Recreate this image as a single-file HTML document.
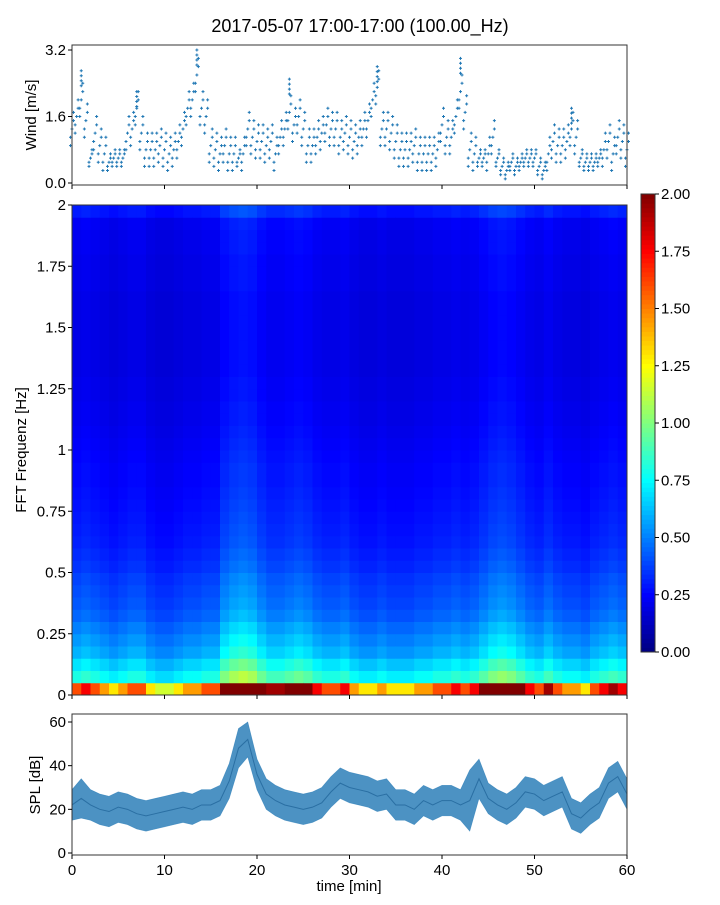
<!DOCTYPE html>
<html><head><meta charset="utf-8"><style>
body{margin:0;background:#fff;width:720px;height:900px;overflow:hidden;font-family:"Liberation Sans",sans-serif}
svg text{font-family:"Liberation Sans",sans-serif;fill:#000}
</style></head><body>
<svg id="chart" width="720" height="900" xmlns="http://www.w3.org/2000/svg">
<text x="360" y="32" font-size="18" text-anchor="middle">2017-05-07 17:00-17:00 (100.00_Hz)</text>
<g id="wind"></g>
<g id="spec"></g>
<g id="cbar"></g>
<g id="spl"></g>
</svg>
<script>
// ---- data ----
const windValues=[1.3,1.6,2.0,1.5,0.6,1.2,0.9,0.7,0.5,0.6,0.6,0.6,1.2,1.3,1.8,1.2,0.8,0.8,0.8,0.9,0.8,0.7,0.8,1.0,1.3,1.8,2.0,2.6,1.8,1.6,0.9,0.8,0.7,0.9,0.7,0.7,0.6,0.7,1.3,1.1,1.0,1.0,0.9,1.0,0.7,1.1,1.3,1.7,1.4,1.6,1.3,0.9,0.9,1.1,1.2,1.4,1.3,1.3,1.1,1.2,1.1,1.0,1.1,1.3,1.5,2.0,2.3,1.3,1.3,1.2,1.0,0.8,0.8,0.8,0.9,0.7,0.7,0.7,0.7,0.8,1.4,1.1,1.1,1.6,2.2,1.7,0.8,0.7,0.6,0.6,0.7,1.1,0.6,0.4,0.3,0.5,0.4,0.5,0.6,0.6,0.6,0.4,0.3,0.7,1.0,0.9,0.9,1.0,1.3,1.1,0.6,0.5,0.5,0.5,0.6,0.8,1.0,0.7,1.1,1.0,0.8];
const windPeaks=[[1,2.7],[7,2.2],[13.5,3.2],[23.5,2.5],[33,2.8],[42,3.0],[54,1.8]];
const windTicks=[0.0,1.6,3.2];
const freqProfile=[1.6,0.8,0.7,0.6,0.55,0.5,0.45,0.42,0.4,0.38,0.35,0.33,0.31,0.3,0.29,0.28,0.27,0.26,0.26,0.25,0.24,0.23,0.22,0.22,0.21,0.21,0.2,0.2,0.2,0.2,0.2,0.2,0.2,0.21,0.21,0.21,0.22,0.22,0.23,0.3];
const colGain=[1.0,1.05,1.0,0.95,0.9,0.95,1.0,1.0,0.9,0.85,0.85,0.9,0.95,0.95,1.0,1.0,1.25,1.35,1.4,1.35,1.2,1.1,1.1,1.15,1.2,1.15,1.05,1.0,1.0,1.05,0.95,0.9,0.9,0.95,0.9,0.9,0.9,0.95,0.95,1.0,1.0,1.05,1.0,1.05,1.15,1.25,1.3,1.25,1.15,1.05,1.0,1.1,1.0,0.95,0.95,0.9,1.0,1.05,1.1,1.05];
const freqTickLabels=["0","0.25","0.5","0.75","1","1.25","1.5","1.75","2"];
const cbarTicks=["0.00","0.25","0.50","0.75","1.00","1.25","1.50","1.75","2.00"];
const splMean=[22,25,22,20,19,21,20,18,17,18,19,20,21,20,22,22,24,33,48,52,36,27,24,22,21,20,21,23,28,32,30,29,28,26,27,22,22,20,24,22,24,24,22,24,34,25,22,20,23,28,27,24,26,28,18,16,20,23,32,35,27];
const splSpread=[7,9,7,7,7,7,7,7,7,7,7,7,7,7,7,7,7,8,9,8,7,7,7,7,7,7,7,7,7,7,7,7,7,7,7,7,7,7,7,7,7,7,7,14,9,7,7,7,7,7,7,7,7,7,7,7,7,7,7,7,7];
const splTicks=[0,20,40,60];
const timeTicks=[0,10,20,30,40,50,60];
// ---- helpers ----
const NS="http://www.w3.org/2000/svg";
function mk(p,tag,at){const e=document.createElementNS(NS,tag);for(const k in at)e.setAttribute(k,at[k]);p.appendChild(e);return e;}
const X0=72,X1=627;
const xT=t=>X0+(X1-X0)*t/60;
function jet(v){v=Math.max(0,Math.min(1,v));
 const r=Math.max(0,Math.min(1,Math.min(4*v-1.5,-4*v+4.5)));
 const g=Math.max(0,Math.min(1,Math.min(4*v-0.5,-4*v+3.5)));
 const b=Math.max(0,Math.min(1,Math.min(4*v+0.5,-4*v+2.5)));
 return `rgb(${Math.round(r*255)},${Math.round(g*255)},${Math.round(b*255)})`;}
function frame(g,y0,y1,name){const r=mk(g,'rect',{x:X0,y:y0,width:X1-X0,height:y1-y0,fill:'none',stroke:'#333','stroke-width':1});
 }
function xticks(g,y1,labels){timeTicks.forEach(t=>{const l=mk(g,'line',{x1:xT(t),x2:xT(t),y1:y1,y2:y1+4,stroke:'#000'});
 
 if(labels){const tx=mk(g,'text',{x:xT(t),y:y1+20,'font-size':15,'text-anchor':'middle'});tx.textContent=t;
 }});}
// ---- wind ----
const W=document.getElementById('wind');
const wy=v=>183-(183-50)*v/3.2;
function cross(x,y){const p=mk(W,'path',{d:`M${x-1.5} ${y}h3M${x} ${y-1.5}v3`,stroke:'#1f77b4','stroke-width':1});
 }
windValues.forEach((v,i)=>{const t=i*60/(windValues.length-1);
 [-0.4,-0.2,0,0.2,0.4].forEach(d=>{cross(xT(t)+(d>0?1.5:d<0?-1.5:0),wy(Math.max(0.1,v+d*(v>0.6?1:0.5))));});});
windPeaks.forEach(([t,p])=>{for(let k=0;k<4;k++){const v=p-k*0.12;cross(xT(t),wy(v));}});
frame(W,45,185,'wind-frame');xticks(W,185,false);
windTicks.forEach(v=>{mk(W,'line',{x1:68,x2:72,y1:wy(v),y2:wy(v),stroke:'#000'});
 const t=mk(W,'text',{x:66,y:wy(v)+5,'font-size':15,'text-anchor':'end'});t.textContent=v.toFixed(1);
 });
const wl=mk(W,'text',{x:36,y:115,'font-size':15,'text-anchor':'middle',transform:'rotate(-90 36 115)'});wl.textContent='Wind [m/s]';

// ---- spectrogram ----
const S=document.getElementById('spec');
const SY0=205,SY1=695;
const fy=f=>SY1-(SY1-SY0)*f/2;
const cw=(X1-X0)/colGain.length;
colGain.forEach((gn,c)=>{freqProfile.forEach((p,r)=>{
 const y=fy((r+1)*0.05);const h=fy(r*0.05)-y;
 const g=r<1?gn*gn:gn;
 const cell=mk(S,'rect',{x:X0+c*cw,y:y,width:cw+0.5,height:h+0.5,fill:jet(p*g/2)});
 });});
frame(S,SY0,SY1,'spectrogram-frame');xticks(S,SY1,false);
freqTickLabels.forEach((lb,i)=>{const y=fy(i*0.25);mk(S,'line',{x1:68,x2:72,y1:y,y2:y,stroke:'#000'});
 const t=mk(S,'text',{x:66,y:y+5,'font-size':15,'text-anchor':'end'});t.textContent=lb;
 });
const sl=mk(S,'text',{x:26,y:450,'font-size':15,'text-anchor':'middle',transform:'rotate(-90 26 450)'});sl.textContent='FFT Frequenz [Hz]';

// ---- colorbar ----
const C=document.getElementById('cbar');
const CY0=194,CY1=652;
for(let i=0;i<100;i++){const y=CY1-(CY1-CY0)*(i+1)/100;
 const r=mk(C,'rect',{x:641,y:y,width:14,height:(CY1-CY0)/100+0.5,fill:jet((i+0.5)/100)});
 }
mk(C,'rect',{x:641,y:CY0,width:14,height:CY1-CY0,fill:'none',stroke:'#333'});
cbarTicks.forEach((lb,i)=>{const y=CY1-(CY1-CY0)*i/8;mk(C,'line',{x1:655,x2:659,y1:y,y2:y,stroke:'#000'});
 const t=mk(C,'text',{x:661,y:y+5,'font-size':15});t.textContent=lb;
 });
// ---- SPL ----
const P=document.getElementById('spl');
const PY0=714,PY1=855;
const sy=v=>853-(853-722)*v/60;
let up='',lo='';
splMean.forEach((m,i)=>{const x=xT(i*60/(splMean.length-1));up+=(i?'L':'M')+x+' '+sy(m+splSpread[i]);});
for(let i=splMean.length-1;i>=0;i--){const x=xT(i*60/(splMean.length-1));lo+='L'+x+' '+sy(Math.max(1,splMean[i]-splSpread[i]));}
const band=mk(P,'path',{d:up+lo+'Z',fill:'#1f77b4','fill-opacity':0.8,stroke:'#1f77b4','stroke-width':0.6,'stroke-opacity':0.6});

let ml='';splMean.forEach((m,i)=>{ml+=(i?'L':'M')+xT(i*60/(splMean.length-1))+' '+sy(m);});
const line=mk(P,'path',{d:ml,fill:'none',stroke:'#2a6fa3','stroke-width':1});

frame(P,PY0,PY1,'spl-frame');xticks(P,PY1,true);
splTicks.forEach(v=>{mk(P,'line',{x1:68,x2:72,y1:sy(v),y2:sy(v),stroke:'#000'});
 const t=mk(P,'text',{x:66,y:sy(v)+5,'font-size':15,'text-anchor':'end'});t.textContent=v;
 });
const pl=mk(P,'text',{x:40,y:785,'font-size':15,'text-anchor':'middle',transform:'rotate(-90 40 785)'});pl.textContent='SPL [dB]';

const xl=mk(P,'text',{x:349,y:891,'font-size':15,'text-anchor':'middle'});xl.textContent='time [min]';

</script>
</body></html>
